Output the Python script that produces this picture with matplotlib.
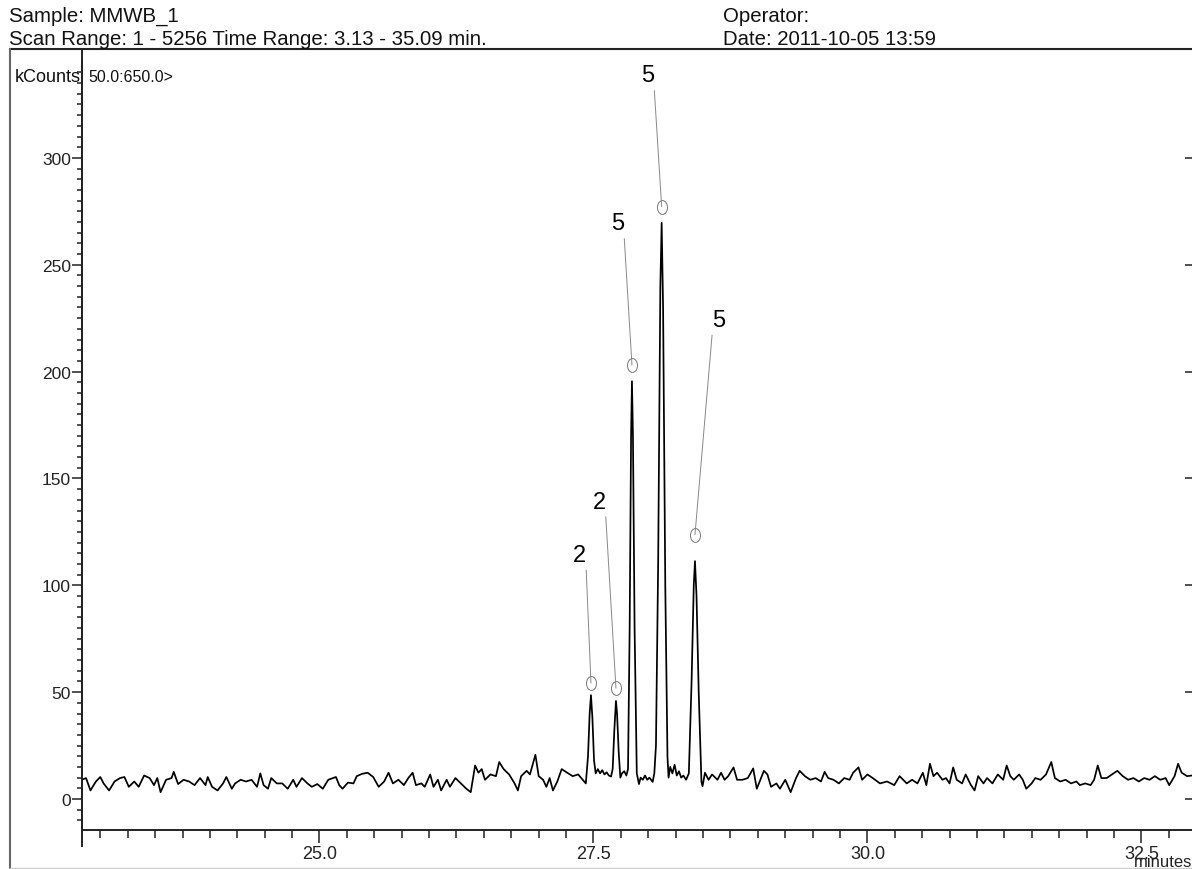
import matplotlib
matplotlib.use("Agg")
import matplotlib.pyplot as plt
from matplotlib.path import Path
from matplotlib.transforms import Affine2D
from matplotlib.lines import Line2D
import numpy as np

plt.rcParams['font.family'] = ['Liberation Sans', 'DejaVu Sans']

# ---------------- data ----------------
time_min = [
    22.83, 22.87, 22.91, 22.96, 23.00, 23.03, 23.08, 23.13, 23.18, 23.22,
    23.26, 23.31, 23.35, 23.40, 23.45, 23.49, 23.52, 23.55, 23.60, 23.65,
    23.67, 23.71, 23.76, 23.81, 23.86, 23.91, 23.96, 23.98, 24.02, 24.07,
    24.12, 24.15, 24.20, 24.23, 24.28, 24.33, 24.38, 24.43, 24.46, 24.49,
    24.53, 24.56, 24.61, 24.66, 24.71, 24.76, 24.79, 24.84, 24.89, 24.93,
    24.98, 25.03, 25.08, 25.15, 25.18, 25.21, 25.26, 25.31, 25.34, 25.39,
    25.44, 25.49, 25.54, 25.59, 25.63, 25.67, 25.72, 25.77, 25.81, 25.85,
    25.88, 25.93, 25.96, 26.01, 26.04, 26.08, 26.11, 26.16, 26.19, 26.24,
    26.29, 26.34, 26.38, 26.42, 26.45, 26.48, 26.51, 26.56, 26.61, 26.64,
    26.68, 26.73, 26.78, 26.81, 26.84, 26.89, 26.92, 26.97, 27.00, 27.04,
    27.07, 27.10, 27.13, 27.17, 27.21, 27.26, 27.31, 27.36, 27.43,
    27.45, 27.465, 27.477, 27.49, 27.505, 27.52, 27.54, 27.56, 27.58, 27.60,
    27.62, 27.64, 27.66, 27.675, 27.69, 27.705, 27.715, 27.73, 27.745, 27.76,
    27.78, 27.80, 27.815, 27.83, 27.843, 27.851, 27.86, 27.875, 27.895, 27.915,
    27.93, 27.95, 27.97, 27.99, 28.01, 28.04, 28.055, 28.07, 28.09, 28.11,
    28.122, 28.135, 28.155, 28.175, 28.185, 28.20, 28.22, 28.24, 28.26, 28.28,
    28.30, 28.32, 28.345, 28.37, 28.395, 28.415, 28.426, 28.44, 28.46, 28.485,
    28.495, 28.517, 28.550, 28.582, 28.631, 28.664, 28.696, 28.729, 28.778, 28.810,
    28.859, 28.908, 28.957, 28.990, 29.022, 29.055, 29.087, 29.120, 29.169, 29.201,
    29.250, 29.299, 29.348, 29.381, 29.429, 29.478, 29.527, 29.576, 29.609, 29.641,
    29.690, 29.739, 29.788, 29.837, 29.869, 29.918, 29.951, 30.000, 30.048, 30.114,
    30.179, 30.244, 30.293, 30.325, 30.358, 30.407, 30.456, 30.505, 30.537, 30.570,
    30.602, 30.635, 30.684, 30.716, 30.749, 30.782, 30.814, 30.863, 30.896, 30.944,
    30.977, 31.010, 31.058, 31.091, 31.140, 31.189, 31.238, 31.270, 31.303, 31.335,
    31.384, 31.417, 31.449, 31.498, 31.531, 31.580, 31.629, 31.677, 31.710, 31.759,
    31.808, 31.857, 31.906, 31.938, 31.987, 32.036, 32.068, 32.101, 32.134, 32.182,
    32.231, 32.280, 32.329, 32.378, 32.427, 32.476, 32.525, 32.574, 32.622, 32.671,
    32.720, 32.753, 32.802, 32.834, 32.867, 32.916, 32.96,
]
kcounts = [
    9.0, 9.8, 4.0, 8.2, 10.3, 7.3, 4.0, 8.2, 9.8, 10.3,
    5.7, 8.2, 5.7, 11.0, 9.8, 6.5, 9.8, 3.2, 9.0, 9.8,
    12.7, 7.0, 9.0, 8.2, 6.5, 9.8, 6.5, 10.3, 5.7, 4.0,
    7.3, 10.3, 4.8, 7.3, 9.0, 8.2, 9.0, 5.7, 12.0, 6.5,
    4.8, 9.8, 7.3, 7.3, 4.8, 9.0, 5.7, 9.8, 7.3, 5.7,
    7.0, 4.8, 9.0, 10.3, 6.5, 4.8, 7.7, 7.3, 10.7, 11.8,
    12.3, 10.3, 5.7, 8.2, 12.3, 7.3, 9.0, 6.5, 9.8, 12.3,
    6.5, 7.3, 5.7, 11.5, 5.7, 9.0, 4.0, 9.0, 5.7, 9.8,
    7.3, 4.8, 3.2, 15.7, 12.3, 14.0, 9.0, 11.5, 10.7, 17.3,
    14.0, 11.5, 7.3, 4.0, 10.7, 13.2, 11.5, 20.7, 10.7, 9.0,
    5.7, 9.8, 4.0, 8.2, 14.0, 12.3, 10.7, 11.5, 7.3,
    20.0, 40.0, 48.6, 38.0, 18.0, 12.0, 14.0, 12.0, 13.5, 11.5,
    12.5, 11.0, 10.5, 14.0, 32.0, 45.9, 40.0, 22.0, 10.0, 12.0,
    13.0, 11.0, 14.0, 80.0, 170.0, 195.5, 170.0, 80.0, 12.0, 7.0,
    10.0, 9.0, 11.0, 9.0, 10.0, 8.0, 12.0, 25.0, 110.0, 240.0,
    269.6, 230.0, 100.0, 20.0, 10.0, 15.0, 12.0, 16.0, 11.0, 13.0,
    10.0, 11.0, 9.0, 12.0, 55.0, 100.0, 111.3, 95.0, 50.0, 8.0,
    6.0, 12.3, 9.0, 11.5, 9.0, 12.3, 9.0, 10.7, 14.8, 9.0,
    9.0, 9.8, 14.3, 4.8, 9.0, 13.2, 11.5, 5.7, 7.3, 4.8,
    9.0, 3.2, 9.8, 13.2, 10.7, 9.0, 9.8, 8.2, 12.7, 9.8,
    9.0, 7.3, 9.8, 9.0, 12.3, 14.8, 9.0, 11.5, 9.8, 7.3,
    8.2, 6.5, 10.7, 9.0, 7.3, 9.0, 7.3, 12.3, 6.5, 16.5,
    10.7, 12.3, 9.0, 9.8, 7.3, 14.8, 9.0, 7.3, 11.5, 6.5,
    4.0, 10.7, 7.3, 9.8, 7.3, 11.5, 9.0, 15.7, 10.7, 9.0,
    11.5, 9.0, 4.8, 7.3, 9.8, 9.0, 11.5, 17.3, 9.8, 8.2,
    9.0, 7.3, 8.2, 6.5, 7.3, 6.5, 9.0, 15.7, 9.8, 9.8,
    11.5, 13.2, 10.7, 9.0, 9.8, 8.2, 9.8, 9.0, 10.7, 9.0,
    9.8, 6.5, 10.7, 16.5, 12.3, 10.7, 11.0,
]

# peak annotations
peak_labels = ['2', '2', '5', '5', '5']
marker_times = [27.477, 27.705, 27.851, 28.122, 28.426]
marker_vals = [54.3, 51.9, 203.1, 277.2, 123.7]
label_times = [27.372, 27.55, 27.719, 27.993, 28.645]
label_vals = [114.2, 139.2, 269.3, 338.6, 224.1]

x_major_ticks = [25.0, 27.5, 30.0, 32.5]
x_tick_labels = ['25.0', '27.5', '30.0', '32.5']
y_major_ticks = [0, 50, 100, 150, 200, 250, 300]
y_tick_labels = ['0', '50', '100', '150', '200', '250', '300']

# ---------------- figure ----------------
W, H = 1192, 870
fig = plt.figure(figsize=(W / 100, H / 100), dpi=100)
fig.patch.set_facecolor('white')

ax_left, ax_bottom_px, ax_top_px = 82, 831, 61
ax = fig.add_axes([ax_left / W, (H - ax_bottom_px) / H,
                   (W - ax_left) / W, (ax_bottom_px - ax_top_px) / H])
ax.set_facecolor('white')
ax.plot(time_min, kcounts, color='black', lw=1.25, solid_joinstyle='round')

ax.set_xlim(22.833, 32.961)
ax.set_ylim(-14.5, 345.8)

ax.set_xticks(x_major_ticks)
ax.set_xticklabels(x_tick_labels)
ax.set_xticks(np.arange(23.0, 32.9, 0.25), minor=True)
ax.set_yticks(y_major_ticks)
ax.set_yticklabels(y_tick_labels)
ax.set_yticks(np.arange(-10, 345, 5), minor=True)

ax.tick_params(axis='x', which='major', direction='out', length=9, width=1.1,
               pad=2, labelsize=13, labelcolor='#222', color='#222')
ax.tick_params(axis='x', which='minor', direction='out', length=5.5, width=1.1,
               color='#222')
ax.tick_params(axis='y', which='major', direction='out', length=7.5, width=1.1,
               pad=0.5, labelsize=12.5, labelcolor='#222', color='#222')
ax.tick_params(axis='y', which='minor', direction='out', length=3.5, width=1.1,
               color='#222')
for side in ('top', 'right'):
    ax.spines[side].set_visible(False)
for side in ('left', 'bottom'):
    ax.spines[side].set_linewidth(1.4)
    ax.spines[side].set_color('#222')

# right-hand major ticks pointing inward
ax2 = ax.twinx()
ax2.set_ylim(ax.get_ylim())
ax2.set_yticks(y_major_ticks)
ax2.tick_params(axis='y', which='major', direction='in', length=5, width=1.2,
                labelright=False, right=True, color='#333')
for s in ax2.spines.values():
    s.set_visible(False)

# peak markers (small upright ellipses)
ell = Path.unit_circle().transformed(Affine2D().scale(0.72, 1.0))
ax.plot(marker_times, marker_vals, linestyle='none', marker=ell,
        markersize=10, markerfacecolor='none', markeredgecolor='#777',
        markeredgewidth=0.7, zorder=3)

# labels with leader lines
for lab, mt, mv, lt, lv in zip(peak_labels, marker_times, marker_vals,
                               label_times, label_vals):
    rel = (0.0, 0.0) if lt > mt else (1.0, 0.0)
    ax.annotate(lab, xy=(mt, mv), xytext=(lt, lv), textcoords='data',
                ha='center', va='center', fontsize=17, color='black',
                arrowprops=dict(arrowstyle='-', color='#888', lw=0.7,
                                shrinkA=1, shrinkB=0, relpos=rel))

# kCounts header inside frame
fig.text(15 / W, 1 - 77 / H, 'kCounts', fontsize=13, va='center', ha='left',
         color='#111')
fig.text(88 / W, 1 - 77 / H, '50.0:650.0>', fontsize=11.5, va='center',
         ha='left', color='#111')

# header text
fig.text(9 / W, 1 - 22 / H, 'Sample: MMWB_1', fontsize=14.7,
         va='baseline', ha='left', color='#111')
fig.text(9 / W, 1 - 45 / H,
         'Scan Range: 1 - 5256 Time Range: 3.13 - 35.09 min.',
         fontsize=14.7, va='baseline', ha='left', color='#111')
fig.text(723 / W, 1 - 22 / H, 'Operator:', fontsize=14.7,
         va='baseline', ha='left', color='#111')
fig.text(723 / W, 1 - 45 / H, 'Date: 2011-10-05 13:59', fontsize=14.7,
         va='baseline', ha='left', color='#111')

# x-axis unit label
fig.text(1134 / W, 1 - 863 / H, 'minutes', fontsize=12, va='center',
         ha='left', color='#222')

# frame lines
fig.add_artist(Line2D([10 / W, 1.0], [1 - 50 / H, 1 - 50 / H],
                      color='#222', lw=1.5))
fig.add_artist(Line2D([10 / W, 10 / W], [1 - 50 / H, 0.0],
                      color='#666', lw=1.5))
fig.add_artist(Line2D([10 / W, 1.0], [1 - 869 / H, 1 - 869 / H],
                      color='#ccc', lw=1.0))
fig.add_artist(Line2D([ax_left / W, ax_left / W],
                      [1 - 50 / H, 1 - 847 / H], color='#222', lw=1.4))

fig.savefig('out.png', dpi=100, facecolor='white')
